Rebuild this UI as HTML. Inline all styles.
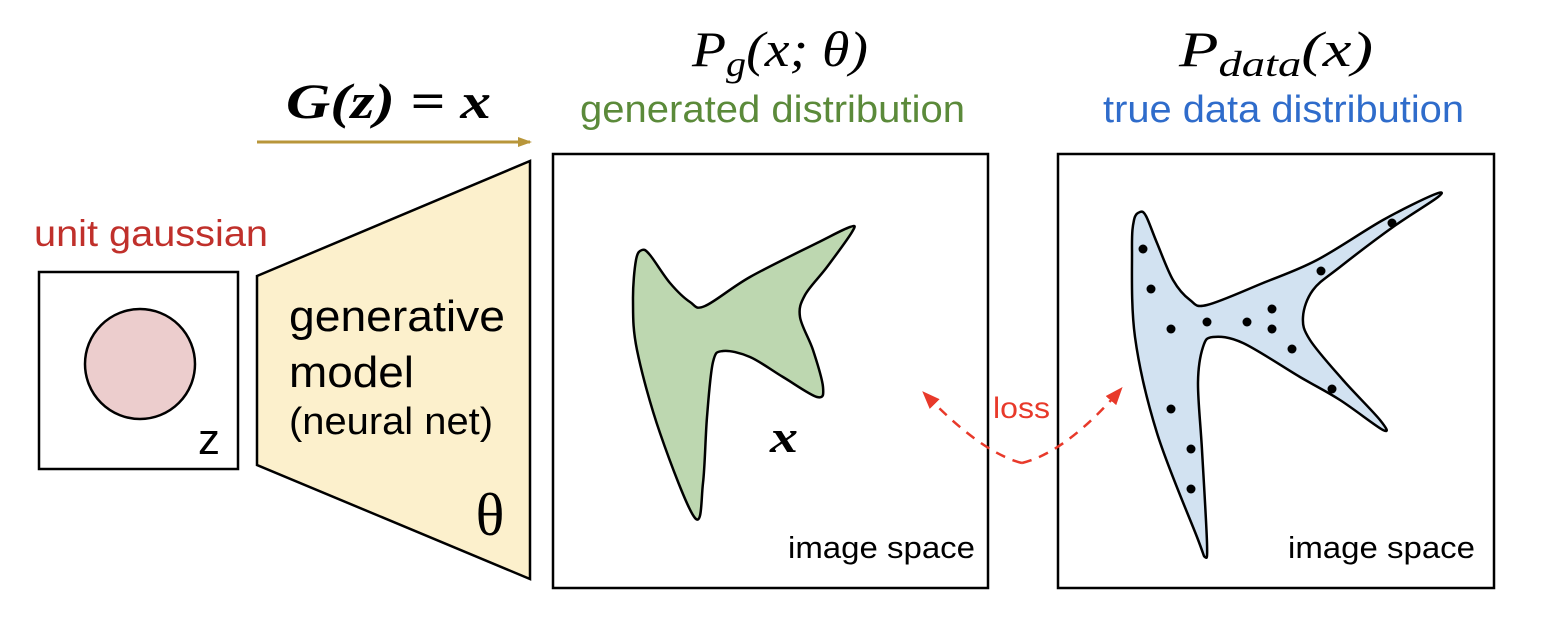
<!DOCTYPE html>
<html><head><meta charset="utf-8"><style>
html,body{margin:0;padding:0;background:#fff;}
svg{display:block;}
.sans{font-family:"Liberation Sans",sans-serif;}
.math{font-family:"Liberation Serif","DejaVu Serif",serif;font-style:italic;}
</style></head><body>
<svg id="fig" width="1544" height="632" viewBox="0 0 1544 632" xmlns="http://www.w3.org/2000/svg">
<defs>
<marker id="goldHead" markerWidth="14" markerHeight="12" refX="12" refY="6" orient="auto" markerUnits="userSpaceOnUse" viewBox="0 0 14 12"><path d="M0,1 L14,6 L0,11 z" fill="#b8963a"/></marker>
<marker id="redHead" markerWidth="18" markerHeight="18" refX="14" refY="9" orient="auto" markerUnits="userSpaceOnUse" viewBox="0 0 18 18"><path d="M0,2 L18,9 L0,16 z" fill="#e8392a"/></marker>
</defs>

<text x="34" y="246" class="sans" font-size="37" fill="#c0302b" textLength="234" lengthAdjust="spacingAndGlyphs">unit gaussian</text>
<rect x="39" y="272" width="199" height="197" fill="#fff" stroke="#000" stroke-width="2.5"/>
<circle cx="140" cy="364" r="55" fill="#eccdcd" stroke="#000" stroke-width="2.5"/>
<text x="198" y="454" class="sans" font-size="44" textLength="22" lengthAdjust="spacingAndGlyphs">z</text>

<polygon points="257,276 530,161 530,579 257,465" fill="#fcf0cc" stroke="#000" stroke-width="2.5"/>
<text x="289" y="331" class="sans" font-size="44" textLength="216" lengthAdjust="spacingAndGlyphs">generative</text>
<text x="289" y="387" class="sans" font-size="44" textLength="125" lengthAdjust="spacingAndGlyphs">model</text>
<text x="289" y="434" class="sans" font-size="38" textLength="204" lengthAdjust="spacingAndGlyphs">(neural net)</text>
<text x="490" y="535" text-anchor="middle" font-family="'Liberation Serif',serif" font-size="60">θ</text>

<line x1="257" y1="142" x2="530" y2="142" stroke="#b8963a" stroke-width="3" marker-end="url(#goldHead)"/>
<text x="286" y="118" class="math" font-size="50" font-weight="bold" textLength="205" lengthAdjust="spacingAndGlyphs">G(z) = x</text>

<text x="692" y="66" class="math" font-size="50" textLength="176" lengthAdjust="spacingAndGlyphs">P<tspan font-size="36" dy="10">g</tspan><tspan dy="-10">(x; θ)</tspan></text>
<text x="580" y="122" class="sans" font-size="38" fill="#5b8a3a" textLength="385" lengthAdjust="spacingAndGlyphs">generated distribution</text>
<text x="1179" y="66" class="math" font-size="50" textLength="194" lengthAdjust="spacingAndGlyphs">P<tspan font-size="36" dy="10">data</tspan><tspan dy="-10">(x)</tspan></text>
<text x="1103" y="122" class="sans" font-size="38" fill="#2f6ccb" textLength="361" lengthAdjust="spacingAndGlyphs">true data distribution</text>

<rect x="553" y="154" width="435" height="434" fill="#fff" stroke="#000" stroke-width="2.5"/>
<rect x="1058" y="154" width="436" height="434" fill="#fff" stroke="#000" stroke-width="2.5"/>
<path id="greenShape" fill="#bdd7b0" stroke="#000" stroke-width="2.5"/>
<path id="blueShape" fill="#d2e2f1" stroke="#000" stroke-width="2.5"/>
<g id="dots"></g>
<text x="770" y="452" class="math" font-size="46" font-weight="bold" textLength="28" lengthAdjust="spacingAndGlyphs">x</text>
<text x="788" y="558" class="sans" font-size="31" textLength="187" lengthAdjust="spacingAndGlyphs">image space</text>
<text x="1288" y="558" class="sans" font-size="31" textLength="187" lengthAdjust="spacingAndGlyphs">image space</text>

<path d="M1022,463 C990,455 955,425 925,394" fill="none" stroke="#e8392a" stroke-width="2.5" stroke-dasharray="10,8" marker-end="url(#redHead)"/>
<path d="M1022,463 C1055,455 1090,425 1120,390" fill="none" stroke="#e8392a" stroke-width="2.5" stroke-dasharray="10,8" marker-end="url(#redHead)"/>
<text x="993" y="418" class="sans" font-size="30" fill="#e8392a" textLength="57" lengthAdjust="spacingAndGlyphs">loss</text>
</svg>
<script>
const greenPts=[[642,250],[650,255],[670,283],[690,302],[705,306],[750,277],[817,243],[850,227],[852,232],[827,267],[805,295],[800,317],[813,350],[823,387],[817,397],[783,377],[750,357],[723,351],[713,362],[707,417],[703,483],[695,518],[660,433],[637,350],[633,300],[636,260]];
const bluePts=[[1140,212],[1146,216],[1157,243],[1173,280],[1190,300],[1207,305],[1263,283],[1317,260],[1383,220],[1433,195],[1438,197],[1393,227],[1340,267],[1313,290],[1303,317],[1310,340],[1343,380],[1380,420],[1383,430],[1340,400],[1300,377],[1243,343],[1213,337],[1203,347],[1198,383],[1202,450],[1207,543],[1205,557],[1197,537],[1157,433],[1135,337],[1132,250],[1134,220]];
const dotX=[1143,1151,1171,1207,1247,1272,1272,1292,1321,1392,1332,1171,1191,1191];
const dotY=[249,289,329,322,322,309,329,349,271,223,389,409,449,489];
function smooth(p){
  const n=p.length;let d='M'+p[0][0]+','+p[0][1];
  for(let i=0;i<n;i++){
    const p0=p[(i-1+n)%n],p1=p[i],p2=p[(i+1)%n],p3=p[(i+2)%n];
    const c1=[p1[0]+(p2[0]-p0[0])/6,p1[1]+(p2[1]-p0[1])/6];
    const c2=[p2[0]-(p3[0]-p1[0])/6,p2[1]-(p3[1]-p1[1])/6];
    d+=' C'+c1.join(',')+' '+c2.join(',')+' '+p2.join(',');
  }
  return d+'Z';
}
document.getElementById('greenShape').setAttribute('d',smooth(greenPts));
document.getElementById('blueShape').setAttribute('d',smooth(bluePts));
const g=document.getElementById('dots');
for(let i=0;i<dotX.length;i++){
  const c=document.createElementNS('http://www.w3.org/2000/svg','circle');
  c.setAttribute('cx',dotX[i]);c.setAttribute('cy',dotY[i]);c.setAttribute('r',4.5);c.setAttribute('fill','#000');
  
  
  g.appendChild(c);
}
</script>
</body></html>
